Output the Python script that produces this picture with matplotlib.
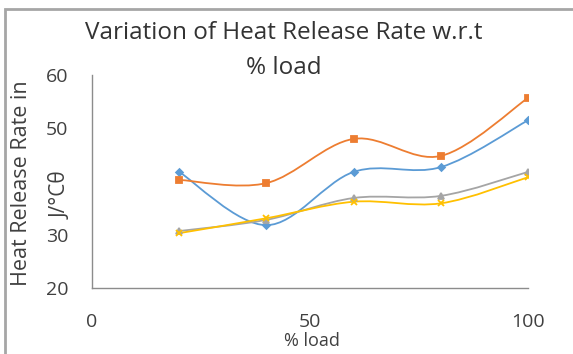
import matplotlib
matplotlib.use("Agg")
import matplotlib.pyplot as plt
import numpy as np
from matplotlib.path import Path
from matplotlib.patches import PathPatch, Rectangle

plt.rcParams['font.family'] = ['Open Sans', 'DejaVu Sans']

# data
load = [20, 40, 60, 80, 100]
series_blue = [41.8, 31.8, 41.8, 42.7, 51.5]
series_orange = [40.3, 39.7, 48.0, 44.8, 55.7]
series_gray = [30.7, 32.8, 36.9, 37.3, 41.8]
series_yellow = [30.3, 33.1, 36.2, 35.9, 40.8]
x_ticks = [0, 50, 100]
y_ticks = [20, 30, 40, 50, 60]
y_tick_labels = ['20', '30', '', '50', '60']


def smooth_path(xs, ys):
    """Excel-like smoothed line as cubic bezier segments"""
    pts = np.column_stack([xs, ys]).astype(float)
    verts = [pts[0]]
    codes = [Path.MOVETO]
    n = len(pts)
    for i in range(n - 1):
        p0 = pts[i - 1] if i > 0 else pts[i]
        p1 = pts[i]
        p2 = pts[i + 1]
        p3 = pts[i + 2] if i + 2 < n else pts[i + 1]
        c1 = p1 + (p2 - p0) / 6.0
        c2 = p2 - (p3 - p1) / 6.0
        verts += [c1, c2, p2]
        codes += [Path.CURVE4] * 3
    return Path(verts, codes)


fig = plt.figure(figsize=(5.73, 3.54), dpi=100)
ax = fig.add_axes([92 / 573, 1 - 288 / 354, 436 / 573, 213 / 354])

styles = [
    (series_blue, '#5B9BD5', 'D', 3.5),
    (series_orange, '#ED7D31', 's', 5),
    (series_gray, '#A5A5A5', '^', 5),
    (series_yellow, '#FFC000', 'x', 5),
]
for vals, col, mk, ms in styles:
    ax.add_patch(PathPatch(smooth_path(load, vals), facecolor='none',
                           edgecolor=col, linewidth=1.3, zorder=2))
    ax.plot(load, vals, linestyle='none', marker=mk, color=col,
            markersize=ms, markeredgewidth=1.3, zorder=3)

ax.set_xlim(0, 100)
ax.set_ylim(20, 60)
ax.set_xticks(x_ticks)
ax.set_yticks(y_ticks)
ax.set_yticklabels(y_tick_labels)
ax.tick_params(length=0, labelsize=14, colors='#404040')
ax.tick_params(axis='x', pad=18)
ax.tick_params(axis='y', pad=17)
for s in ['top', 'right']:
    ax.spines[s].set_visible(False)
for s in ['left', 'bottom']:
    ax.spines[s].set_color('#8C8C8C')
    ax.spines[s].set_linewidth(1.0)

fig.text(284 / 573, 1 - 33 / 354, 'Variation of Heat Release Rate w.r.t',
         ha='center', va='center', fontsize=17.5, color='#333333')
fig.text(284 / 573, 1 - 68 / 354, '% load',
         ha='center', va='center', fontsize=17.5, color='#333333')
fig.text(312 / 573, 1 - 341 / 354, '% load',
         ha='center', va='center', fontsize=13, color='#404040')
fig.text(22 / 573, 1 - 183 / 354, 'Heat Release Rate in', rotation=90,
         ha='center', va='center', fontsize=15.5, color='#404040')
fig.text(61 / 573, 1 - 195 / 354, 'J/°Cθ', rotation=90,
         ha='center', va='center', fontsize=15, color='#404040')

# chart frame (cropped at right/bottom)
fig.patches.append(Rectangle((5 / 573, -0.1), 1.2, 1.1 - 9 / 354,
                             transform=fig.transFigure, fill=False,
                             edgecolor='#A6A6A6', linewidth=2.0))

fig.savefig('out.png', dpi=100)
